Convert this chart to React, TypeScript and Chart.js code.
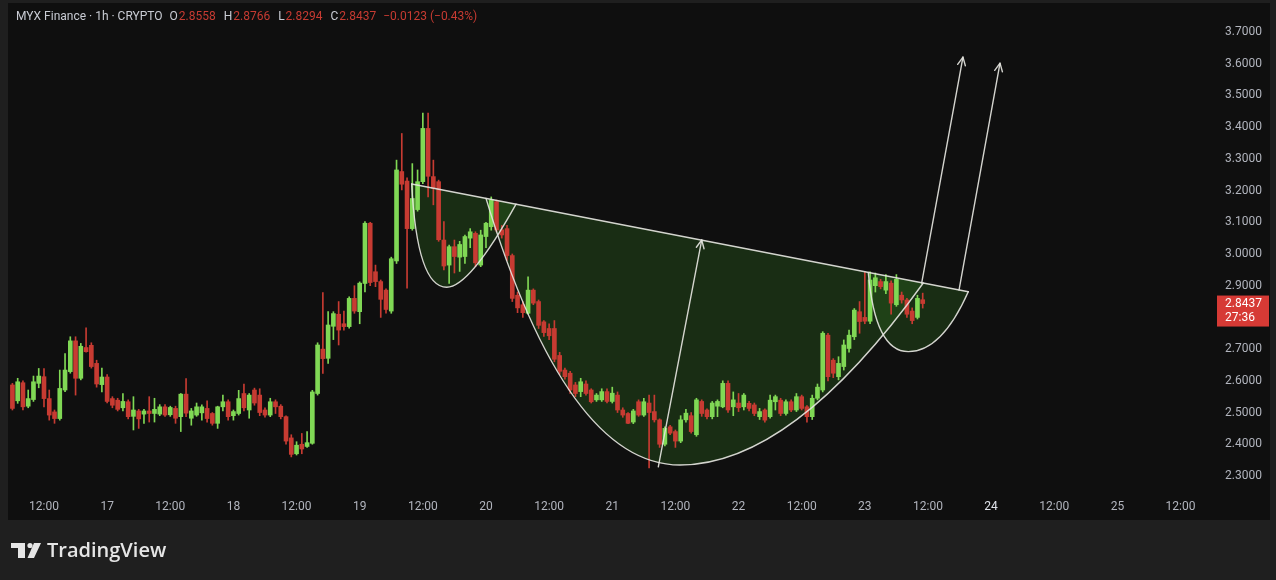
import { useEffect, useRef } from 'react';
import { Chart, registerables } from 'chart.js';

Chart.register(...registerables);

// ---- data: 1h candles, first candle = 16th 06:00 (hours counted from 16th 00:00)
const START_HOUR = 6;
const OPEN = [
  2.587, 2.537, 2.594, 2.520, 2.541, 2.592, 2.613, 2.544, 2.502, 2.481,
  2.571, 2.629, 2.726, 2.608, 2.705, 2.712, 2.655, 2.588, 2.612, 2.544,
  2.539, 2.515, 2.534, 2.488, 2.505, 2.495, 2.505, 2.497, 2.495, 2.518,
  2.493, 2.513, 2.487, 2.558, 2.482, 2.492, 2.499, 2.513, 2.497, 2.466,
  2.518, 2.534, 2.490, 2.497, 2.560, 2.508, 2.571, 2.555, 2.508, 2.492,
  2.534, 2.520, 2.487, 2.420, 2.370, 2.400, 2.393, 2.403, 2.560, 2.700,
  2.671, 2.772, 2.810, 2.780, 2.771, 2.860, 2.818, 2.907, 3.097, 2.944,
  2.913, 2.886, 2.820, 2.978, 3.260, 3.230, 3.080, 3.140, 3.228, 3.396,
  3.244, 3.228, 3.044, 2.965, 3.023, 2.990, 2.992, 3.050, 3.065, 2.965,
  3.055, 3.086, 3.165, 3.076, 3.080, 2.995, 2.870, 2.840, 2.813, 2.886,
  2.850, 2.786, 2.765, 2.765, 2.680, 2.634, 2.624, 2.587, 2.566, 2.590,
  2.571, 2.540, 2.540, 2.566, 2.535, 2.555, 2.508, 2.497, 2.470, 2.534,
  2.492, 2.530, 2.503, 2.477, 2.400, 2.455, 2.440, 2.410, 2.477, 2.490,
  2.430, 2.535, 2.508, 2.487, 2.520, 2.518, 2.592, 2.518, 2.530, 2.518,
  2.529, 2.524, 2.487, 2.508, 2.487, 2.534, 2.539, 2.497, 2.534, 2.508,
  2.550, 2.518, 2.487, 2.545, 2.571, 2.744, 2.665, 2.613, 2.645, 2.702,
  2.739, 2.818, 2.800, 2.788, 2.900, 2.913, 2.886, 2.908, 2.840, 2.870,
  2.855, 2.820, 2.800, 2.8558,
];
const HIGH = [
  2.592, 2.608, 2.600, 2.571, 2.615, 2.639, 2.639, 2.571, 2.508, 2.634,
  2.686, 2.739, 2.739, 2.718, 2.767, 2.720, 2.665, 2.640, 2.620, 2.550,
  2.545, 2.560, 2.540, 2.550, 2.510, 2.510, 2.550, 2.545, 2.525, 2.525,
  2.520, 2.520, 2.560, 2.607, 2.513, 2.530, 2.524, 2.537, 2.500, 2.520,
  2.555, 2.540, 2.508, 2.570, 2.590, 2.560, 2.577, 2.575, 2.515, 2.545,
  2.540, 2.525, 2.490, 2.430, 2.408, 2.434, 2.440, 2.570, 2.720, 2.878,
  2.818, 2.818, 2.850, 2.820, 2.865, 2.900, 2.912, 3.102, 3.100, 2.965,
  2.918, 2.890, 2.990, 3.296, 3.380, 3.240, 3.285, 3.265, 3.444, 3.444,
  3.296, 3.233, 3.102, 3.028, 3.044, 3.040, 3.060, 3.080, 3.070, 3.075,
  3.100, 3.180, 3.170, 3.090, 3.090, 3.000, 2.880, 2.850, 2.928, 2.890,
  2.855, 2.790, 2.780, 2.790, 2.690, 2.640, 2.630, 2.595, 2.608, 2.600,
  2.575, 2.560, 2.575, 2.575, 2.580, 2.565, 2.515, 2.500, 2.510, 2.540,
  2.545, 2.555, 2.555, 2.480, 2.455, 2.460, 2.445, 2.490, 2.510, 2.500,
  2.545, 2.540, 2.512, 2.535, 2.540, 2.600, 2.600, 2.565, 2.560, 2.560,
  2.535, 2.530, 2.513, 2.512, 2.555, 2.555, 2.545, 2.540, 2.540, 2.560,
  2.555, 2.522, 2.555, 2.590, 2.755, 2.750, 2.670, 2.676, 2.729, 2.760,
  2.828, 2.850, 2.944, 2.944, 2.940, 2.920, 2.935, 2.915, 2.935, 2.880,
  2.860, 2.830, 2.870, 2.8766,
];
const LOW = [
  2.508, 2.529, 2.508, 2.515, 2.535, 2.578, 2.518, 2.476, 2.466, 2.476,
  2.566, 2.624, 2.555, 2.603, 2.690, 2.640, 2.580, 2.565, 2.530, 2.515,
  2.505, 2.505, 2.480, 2.445, 2.450, 2.466, 2.470, 2.470, 2.490, 2.488,
  2.488, 2.466, 2.440, 2.487, 2.460, 2.488, 2.476, 2.470, 2.460, 2.450,
  2.505, 2.476, 2.476, 2.492, 2.505, 2.482, 2.523, 2.490, 2.485, 2.487,
  2.497, 2.480, 2.400, 2.360, 2.366, 2.370, 2.390, 2.400, 2.555, 2.623,
  2.655, 2.730, 2.713, 2.760, 2.766, 2.813, 2.780, 2.880, 2.900, 2.897,
  2.800, 2.813, 2.813, 2.970, 3.202, 2.892, 3.075, 3.135, 3.222, 3.180,
  3.155, 3.040, 2.950, 2.907, 2.940, 2.945, 2.970, 3.020, 2.960, 2.960,
  3.020, 3.075, 3.070, 3.050, 2.980, 2.850, 2.815, 2.800, 2.810, 2.840,
  2.765, 2.740, 2.730, 2.660, 2.620, 2.605, 2.560, 2.550, 2.550, 2.555,
  2.530, 2.535, 2.535, 2.530, 2.530, 2.500, 2.485, 2.465, 2.465, 2.488,
  2.488, 2.325, 2.470, 2.390, 2.395, 2.430, 2.390, 2.405, 2.470, 2.435,
  2.425, 2.488, 2.480, 2.480, 2.487, 2.515, 2.500, 2.490, 2.503, 2.508,
  2.505, 2.490, 2.478, 2.470, 2.482, 2.508, 2.490, 2.492, 2.503, 2.503,
  2.508, 2.470, 2.478, 2.540, 2.565, 2.600, 2.610, 2.603, 2.634, 2.690,
  2.730, 2.750, 2.780, 2.780, 2.880, 2.890, 2.875, 2.810, 2.835, 2.845,
  2.800, 2.780, 2.795, 2.8294,
];
const CLOSE = [
  2.513, 2.597, 2.518, 2.544, 2.597, 2.615, 2.544, 2.492, 2.481, 2.576,
  2.634, 2.726, 2.608, 2.709, 2.692, 2.645, 2.590, 2.612, 2.535, 2.523,
  2.510, 2.535, 2.487, 2.508, 2.480, 2.505, 2.497, 2.510, 2.518, 2.492,
  2.516, 2.482, 2.558, 2.498, 2.505, 2.518, 2.518, 2.481, 2.466, 2.518,
  2.534, 2.487, 2.503, 2.544, 2.515, 2.555, 2.530, 2.500, 2.492, 2.534,
  2.518, 2.487, 2.410, 2.368, 2.397, 2.385, 2.405, 2.565, 2.713, 2.670,
  2.776, 2.812, 2.760, 2.771, 2.860, 2.820, 2.908, 3.097, 2.910, 2.913,
  2.857, 2.825, 2.985, 3.265, 3.220, 3.080, 3.175, 3.228, 3.396, 3.245,
  3.207, 3.045, 2.962, 3.023, 2.992, 3.030, 3.055, 3.070, 2.972, 3.060,
  3.097, 3.170, 3.076, 3.060, 2.995, 2.860, 2.830, 2.815, 2.886, 2.845,
  2.775, 2.752, 2.742, 2.668, 2.630, 2.613, 2.571, 2.560, 2.597, 2.560,
  2.534, 2.555, 2.566, 2.535, 2.561, 2.508, 2.492, 2.466, 2.505, 2.492,
  2.534, 2.500, 2.477, 2.400, 2.450, 2.435, 2.410, 2.477, 2.498, 2.440,
  2.540, 2.497, 2.487, 2.530, 2.535, 2.592, 2.508, 2.540, 2.515, 2.555,
  2.513, 2.497, 2.503, 2.476, 2.539, 2.550, 2.497, 2.534, 2.508, 2.550,
  2.513, 2.487, 2.545, 2.580, 2.750, 2.613, 2.624, 2.655, 2.713, 2.744,
  2.823, 2.787, 2.788, 2.918, 2.925, 2.897, 2.913, 2.845, 2.920, 2.855,
  2.810, 2.790, 2.860, 2.8437,
];

const X_TICK_HOURS = [12, 24, 36, 48, 60, 72, 84, 96, 108, 120, 132, 144, 156, 168, 180, 192, 204, 216, 228];
const X_TICK_LABELS = ['12:00', '17', '12:00', '18', '12:00', '19', '12:00', '20', '12:00', '21', '12:00', '22', '12:00', '23', '12:00', '24', '12:00', '25', '12:00'];
const Y_TICKS = [2.3, 2.4, 2.5, 2.6, 2.7, 2.8, 2.9, 3.0, 3.1, 3.2, 3.3, 3.4, 3.5, 3.6, 3.7];

const X_MIN = 5.16;
const X_MAX = 233.98;
const Y_MIN = 2.2494;
const Y_MAX = 3.7915;

const LAST_PRICE = 2.8437;
const COUNTDOWN = '27:36';
const HEADER_TITLE = 'MYX Finance · 1h · CRYPTO';
const HEADER_OHLC = [['O', '2.8558'], ['H', '2.8766'], ['L', '2.8294'], ['C', '2.8437']];
const HEADER_CHANGE = '−0.0123 (−0.43%)';

// ---- drawings (hour, price)
const TRENDLINE = [[81.88, 3.2207], [187.66, 2.881]];
// start, control, bottom, control, end
const SMALL_CUP = [[81.88, 3.2207], [82.9, 2.895], [88.54, 2.895], [92.9, 2.895], [101.71, 3.157]];
const BIG_CUP = [[96.0, 3.1754], [111.4, 2.3345], [132.87, 2.3345], [154.16, 2.3345], [179.11, 2.9085]];
const HANDLE_CUP = [[168.66, 2.942], [169.93, 2.692], [176.26, 2.692], [182.61, 2.692], [187.66, 2.881]];
const ARROWS = [
  [[128.75, 2.329], [137.0, 3.044]],
  [[178.8, 2.908], [186.65, 3.621]],
  [[185.9, 2.886], [193.69, 3.602]],
];

const UP = '#80d855';
const DOWN = '#c73b32';
const AXIS_TEXT = '#b2b5be';
const FONT = 'Roboto, "Noto Sans", "DejaVu Sans", sans-serif';

function toPx(chart: any, pt: number[]) {
  return [chart.scales.x.getPixelForValue(pt[0]), chart.scales.y.getPixelForValue(pt[1])];
}

function cupPath(ctx: any, chart: any, cup: number[][]) {
  const p = cup.map((q) => toPx(chart, q));
  ctx.moveTo(p[0][0], p[0][1]);
  ctx.quadraticCurveTo(p[1][0], p[1][1], p[2][0], p[2][1]);
  ctx.quadraticCurveTo(p[3][0], p[3][1], p[4][0], p[4][1]);
}

function drawArrow(ctx: any, x1: number, y1: number, x2: number, y2: number) {
  ctx.beginPath();
  ctx.moveTo(x1, y1);
  ctx.lineTo(x2, y2);
  ctx.stroke();
  const ang = Math.atan2(y2 - y1, x2 - x1);
  const L = 9;
  const a = Math.PI / 7;
  ctx.beginPath();
  ctx.moveTo(x2 - L * Math.cos(ang - a), y2 - L * Math.sin(ang - a));
  ctx.lineTo(x2, y2);
  ctx.lineTo(x2 - L * Math.cos(ang + a), y2 - L * Math.sin(ang + a));
  ctx.stroke();
}

const backgroundPlugin = {
  id: 'tvBackground',
  beforeDraw(chart: any) {
    const { ctx, chartArea } = chart;
    ctx.save();
    ctx.fillStyle = '#1f1f1f';
    ctx.fillRect(0, 0, chart.width, chart.height);
    ctx.fillStyle = '#0f0f0f';
    const right = chart.scales.y.right;
    const bottom = chart.scales.x.bottom;
    ctx.fillRect(chartArea.left, chartArea.top, right - chartArea.left, bottom - chartArea.top);
    ctx.restore();
  },
};

const drawingsPlugin = {
  id: 'tvDrawings',
  beforeDatasetsDraw(chart: any) {
    const { ctx, chartArea } = chart;
    ctx.save();
    ctx.beginPath();
    ctx.rect(chartArea.left, chartArea.top, chartArea.right - chartArea.left, chartArea.bottom - chartArea.top);
    ctx.clip();
    ctx.fillStyle = 'rgba(46, 110, 30, 0.32)';
    [SMALL_CUP, BIG_CUP, HANDLE_CUP].forEach((cup) => {
      ctx.beginPath();
      cupPath(ctx, chart, cup);
      ctx.closePath();
      ctx.fill();
    });
    ctx.restore();
  },
  afterDatasetsDraw(chart: any) {
    const { ctx, chartArea } = chart;
    ctx.save();
    ctx.beginPath();
    ctx.rect(chartArea.left, chartArea.top, chartArea.right - chartArea.left, chartArea.bottom - chartArea.top);
    ctx.clip();
    ctx.strokeStyle = 'rgba(228, 228, 222, 0.92)';
    ctx.lineWidth = 1.4;
    ctx.lineCap = 'round';
    ctx.lineJoin = 'round';
    const a = toPx(chart, TRENDLINE[0]);
    const b = toPx(chart, TRENDLINE[1]);
    ctx.beginPath();
    ctx.moveTo(a[0], a[1]);
    ctx.lineTo(b[0], b[1]);
    ctx.stroke();
    [SMALL_CUP, BIG_CUP, HANDLE_CUP].forEach((cup) => {
      ctx.beginPath();
      cupPath(ctx, chart, cup);
      ctx.stroke();
    });
    ARROWS.forEach((ar) => {
      const s = toPx(chart, ar[0]);
      const e = toPx(chart, ar[1]);
      drawArrow(ctx, s[0], s[1], e[0], e[1]);
    });
    ctx.restore();

    // last price label
    const ys = chart.scales.y;
    const py = ys.getPixelForValue(LAST_PRICE);
    ctx.save();
    ctx.fillStyle = '#d63a35';
    ctx.fillRect(ys.left + 5, py - 8, 52, 31);
    ctx.fillStyle = '#ffffff';
    ctx.font = '12px ' + FONT;
    ctx.textBaseline = 'middle';
    ctx.textAlign = 'left';
    ctx.fillText(LAST_PRICE.toFixed(4), ys.left + 13, py);
    ctx.fillText(COUNTDOWN, ys.left + 13, py + 14);
    ctx.restore();
  },
  afterDraw(chart: any) {
    const { ctx } = chart;
    ctx.save();
    // header
    ctx.font = '12px ' + FONT;
    ctx.textBaseline = 'middle';
    ctx.textAlign = 'left';
    let x = 16;
    const y = 17;
    ctx.fillStyle = '#c9ccd4';
    ctx.fillText(HEADER_TITLE, x, y);
    x += ctx.measureText(HEADER_TITLE).width + 7;
    HEADER_OHLC.forEach(([k, v]) => {
      ctx.fillStyle = '#c9ccd4';
      ctx.fillText(k, x, y);
      x += ctx.measureText(k).width + 1;
      ctx.fillStyle = DOWN;
      ctx.fillText(v, x, y);
      x += ctx.measureText(v).width + 8;
    });
    ctx.fillStyle = DOWN;
    ctx.fillText(HEADER_CHANGE, x - 1, y);

    // TradingView logo
    ctx.fillStyle = '#e6e6e6';
    ctx.fillRect(11, 543, 14, 5);
    ctx.fillRect(18, 543, 7, 15);
    ctx.beginPath();
    ctx.arc(30, 545.5, 2.6, 0, Math.PI * 2);
    ctx.fill();
    ctx.beginPath();
    ctx.moveTo(34, 543);
    ctx.lineTo(41, 543);
    ctx.lineTo(34, 558);
    ctx.lineTo(27.5, 558);
    ctx.closePath();
    ctx.fill();
    ctx.font = '600 20px "Open Sans", ' + FONT;
    ctx.textBaseline = 'alphabetic';
    ctx.fillText('TradingView', 47, 557);
    ctx.restore();
  },
};

export default function App() {
  const ref = useRef<HTMLCanvasElement | null>(null);

  useEffect(() => {
    if (!ref.current) return;
    const colors = CLOSE.map((c, i) => (c >= OPEN[i] ? UP : DOWN));
    const chart = new Chart(ref.current, {
      type: 'bar',
      data: {
        datasets: [
          {
            label: 'wicks',
            data: LOW.map((l, i) => ({ x: START_HOUR + i, y: [l, HIGH[i]] })) as any,
            backgroundColor: colors,
            barThickness: 1,
            grouped: false,
            order: 2,
          } as any,
          {
            label: 'bodies',
            data: OPEN.map((o, i) => ({ x: START_HOUR + i, y: [o, CLOSE[i]] })) as any,
            backgroundColor: colors,
            barThickness: 4,
            minBarLength: 1,
            grouped: false,
            order: 1,
          } as any,
        ],
      },
      options: {
        animation: false,
        responsive: false,
        devicePixelRatio: 1,
        layout: { padding: { left: 8, top: 3, right: 6, bottom: 60 } },
        plugins: { legend: { display: false }, tooltip: { enabled: false } },
        scales: {
          x: {
            type: 'linear',
            min: X_MIN,
            max: X_MAX,
            offset: false,
            grid: { display: false, drawTicks: false, tickLength: 0 },
            border: { display: false },
            ticks: {
              autoSkip: false,
              maxRotation: 0,
              padding: 8,
              color: (c: any) => (X_TICK_LABELS[c.index] === '24' ? '#e0e3ea' : AXIS_TEXT),
              font: { family: FONT, size: 12 },
              callback: (_v: any, i: number) => X_TICK_LABELS[i],
            },
            afterBuildTicks: (s: any) => {
              s.ticks = X_TICK_HOURS.map((v) => ({ value: v }));
            },
            afterFit: (s: any) => {
              s.height = 28;
              s.paddingLeft = 0;
              s.paddingRight = 0;
            },
          },
          y: {
            type: 'linear',
            position: 'right',
            min: Y_MIN,
            max: Y_MAX,
            grid: { display: false, drawTicks: false, tickLength: 0 },
            border: { display: false },
            ticks: {
              padding: 13,
              color: AXIS_TEXT,
              font: { family: FONT, size: 12 },
              callback: (v: any) => Number(v).toFixed(4),
            },
            afterBuildTicks: (s: any) => {
              s.ticks = Y_TICKS.map((v) => ({ value: v }));
            },
            afterFit: (s: any) => {
              s.width = 58;
              s.paddingTop = 0;
              s.paddingBottom = 0;
            },
          },
        },
      } as any,
      plugins: [backgroundPlugin, drawingsPlugin],
    });
    return () => chart.destroy();
  }, []);

  return (
    <div style={{ position: 'fixed', left: 0, top: 0, width: 1276, height: 580, background: '#1f1f1f' }}>
      <canvas ref={ref} width={1276} height={580} style={{ display: 'block', width: 1276, height: 580 }} />
    </div>
  );
}
